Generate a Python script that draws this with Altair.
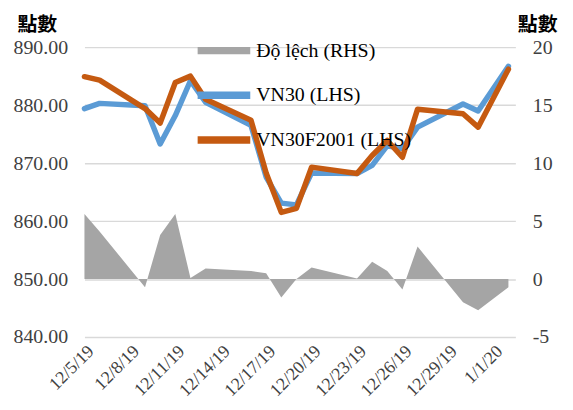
import altair as alt
import pandas as pd

dates = ["2019/12/05", "2019/12/06", "2019/12/09", "2019/12/10", "2019/12/11",
         "2019/12/12", "2019/12/13", "2019/12/16", "2019/12/17", "2019/12/18",
         "2019/12/19", "2019/12/20", "2019/12/23", "2019/12/24", "2019/12/25",
         "2019/12/26", "2019/12/27", "2019/12/30", "2019/12/31", "2020/01/02"]
vn30 = [879.4, 880.3, 879.9, 873.3, 878.2, 884.2, 880.5, 876.5, 867.6, 863.1,
        862.8, 868.3, 868.2, 869.6, 873.0, 872.5, 876.2, 880.2, 879.0, 886.7]
vn30f = [884.9, 884.3, 879.4, 876.9, 883.9, 885.0, 881.0, 877.4, 868.3, 861.5,
         862.2, 869.3, 868.2, 871.3, 873.9, 871.0, 879.3, 878.5, 876.2, 886.2]
spread = [5.6, 4.1, -0.7, 3.8, 5.6, 0.1, 0.9, 0.7, 0.5, -1.6,
          0.0, 1.0, 0.05, 1.5, 0.7, -0.9, 2.8, -2.0, -2.7, -0.7]

series_names = ["Độ lệch (RHS)", "VN30 (LHS)", "VN30F2001 (LHS)"]
series_colors = ["#A5A5A5", "#5B9BD5", "#C55A11"]

tick_dates = [(2019, 12, 5), (2019, 12, 8), (2019, 12, 11), (2019, 12, 14),
              (2019, 12, 17), (2019, 12, 20), (2019, 12, 23), (2019, 12, 26),
              (2019, 12, 29), (2020, 1, 1)]
left_ticks = [840, 850, 860, 870, 880, 890]
right_ticks = [-5, 0, 5, 10, 15, 20]

rows = []
for name, vals in zip(series_names, [spread, vn30, vn30f]):
    for d, v in zip(dates, vals):
        rows.append({"date": d, "series": name, "value": v})
df = pd.DataFrame(rows)

FONT = "Liberation Serif, Times New Roman, Tinos, DejaVu Serif, serif"
CJK = "Noto Sans CJK TC"

x_enc = alt.X(
    "date:T",
    scale=alt.Scale(domain=[alt.DateTime(year=2019, month=12, date=5),
                            alt.DateTime(year=2020, month=1, date=2, hours=11)]),
    axis=alt.Axis(
        values=[alt.DateTime(year=y, month=m, date=d) for (y, m, d) in tick_dates],
        format="%-m/%-d/%y", labelAngle=-45, labelAlign="right", labelBaseline="top",
        labelPadding=5, labelFont=FONT, labelFontSize=18, labelColor="#404040",
        domain=False, ticks=False, grid=False, title=None, labelOverlap=False,
    ),
)

color_enc = alt.Color(
    "series:N",
    scale=alt.Scale(domain=series_names, range=series_colors),
    legend=alt.Legend(
        title=None, orient="none", legendX=114, legendY=-23, padding=0,
        symbolType="M-1,-0.14H1V0.14H-1Z", symbolSize=2809,
        symbolStrokeWidth=0, symbolOpacity=1,
        rowPadding=8, labelOffset=6,
        labelFont=FONT, labelFontSize=20, labelColor="#000000", labelLimit=300,
    ),
)

area = alt.Chart(df).transform_filter(
    alt.datum.series == series_names[0]
).mark_area(opacity=1, interpolate="linear").encode(
    x=x_enc,
    y=alt.Y("value:Q",
            scale=alt.Scale(domain=[-5, 20], nice=False, zero=False),
            axis=alt.Axis(orient="right", values=right_ticks,
                          labelExpr="'' + datum.value",
                          labelFont=FONT, labelFontSize=20, labelColor="#404040",
                          labelAlign="left", labelPadding=17,
                          domain=False, ticks=False, grid=False,
                          title="點數", titleAngle=0, titleAlign="left",
                          titleBaseline="middle", titleX=2, titleY=-23,
                          titleFont=CJK, titleFontSize=20, titleFontWeight="bold",
                          titleColor="#000000")),
    color=color_enc,
)

def line_layer(name):
    return alt.Chart(df).transform_filter(
        alt.datum.series == name
    ).mark_line(strokeWidth=5.5, strokeCap="round", strokeJoin="round").encode(
        x=x_enc,
        y=alt.Y("value:Q",
                scale=alt.Scale(domain=[840, 890], nice=False, zero=False),
                axis=alt.Axis(orient="left", values=left_ticks, format=".2f",
                              labelFont=FONT, labelFontSize=20, labelColor="#404040",
                              labelPadding=17,
                              domain=False, ticks=False, grid=True,
                              gridColor="#D9D9D9", gridWidth=1.5,
                              title="點數", titleAngle=0, titleAlign="left",
                              titleBaseline="middle", titleX=-68, titleY=-23,
                              titleFont=CJK, titleFontSize=20, titleFontWeight="bold",
                              titleColor="#000000")),
        color=color_enc,
    )

lines = alt.layer(line_layer(series_names[1]), line_layer(series_names[2]))

chart = alt.layer(area, lines).resolve_scale(y="independent").properties(
    width=434, height=292,
    autosize=alt.AutoSizeParams(type="none"),
    padding={"left": 77, "top": 38, "right": 50, "bottom": 62},
).configure_view(stroke=None)

chart.save("out.html", embed_options={"renderer": "svg", "actions": False})
